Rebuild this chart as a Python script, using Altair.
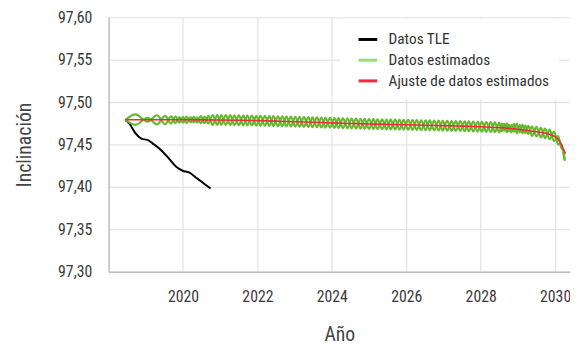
import altair as alt
import pandas as pd

# ---- Datos TLE (negro) ----
tle_year = [2018.45, 2018.57, 2018.71, 2018.88, 2019.06, 2019.19, 2019.37, 2019.59,
            2019.81, 2019.99, 2020.16, 2020.38, 2020.56, 2020.74]
tle_incl = [97.4790, 97.4740, 97.4640, 97.4570, 97.4550, 97.4510, 97.4450, 97.4350,
            97.4240, 97.4190, 97.4170, 97.4100, 97.4040, 97.3980]

# ---- Datos estimados (verde): dos ramas trenzadas, extremos leidos ----
est_year = [2018.45, 2018.72, 2019.05, 2019.30, 2019.52, 2019.68, 2019.80, 2019.90,
            2020.00, 2020.10, 2020.20, 2020.29, 2020.38, 2020.48, 2020.58, 2020.68,
            2020.80, 2020.92, 2021.03, 2021.15, 2021.27, 2021.38, 2021.50, 2021.62,
            2021.73, 2021.85, 2021.97, 2022.08, 2022.20, 2022.32, 2022.43, 2022.55,
            2022.67, 2022.78, 2022.90, 2023.02, 2023.13, 2023.25, 2023.37, 2023.48,
            2023.60, 2023.72, 2023.83, 2023.95, 2024.07, 2024.18, 2024.30, 2024.42,
            2024.53, 2024.65, 2024.77, 2024.88, 2025.00, 2025.12, 2025.23, 2025.35,
            2025.47, 2025.58, 2025.70, 2025.82, 2025.93, 2026.05, 2026.17, 2026.28,
            2026.40, 2026.52, 2026.63, 2026.75, 2026.87, 2026.98, 2027.10, 2027.22,
            2027.33, 2027.45, 2027.57, 2027.68, 2027.80, 2027.92, 2028.03, 2028.15,
            2028.27, 2028.38, 2028.50, 2028.57, 2028.63, 2028.70, 2028.76, 2028.83,
            2028.90, 2028.97, 2029.05, 2029.12, 2029.20, 2029.28, 2029.38, 2029.50,
            2029.62, 2029.73, 2029.85, 2029.97, 2030.08, 2030.17, 2030.22, 2030.26]
est_a = [97.4790, 97.4855, 97.4770, 97.4845, 97.4738, 97.4832, 97.4752, 97.4822,
         97.4758, 97.4830, 97.4762, 97.4825, 97.4760, 97.4835, 97.4752, 97.4838,
         97.4732, 97.4848, 97.4732, 97.4847, 97.4730, 97.4844, 97.4727, 97.4842,
         97.4725, 97.4840, 97.4723, 97.4838, 97.4721, 97.4835, 97.4718, 97.4832,
         97.4715, 97.4830, 97.4712, 97.4827, 97.4709, 97.4823, 97.4706, 97.4820,
         97.4703, 97.4817, 97.4699, 97.4814, 97.4696, 97.4810, 97.4693, 97.4807,
         97.4690, 97.4804, 97.4687, 97.4801, 97.4684, 97.4799, 97.4681, 97.4796,
         97.4679, 97.4794, 97.4677, 97.4792, 97.4675, 97.4790, 97.4672, 97.4787,
         97.4670, 97.4785, 97.4668, 97.4783, 97.4665, 97.4780, 97.4663, 97.4777,
         97.4660, 97.4775, 97.4657, 97.4772, 97.4654, 97.4768, 97.4651, 97.4765,
         97.4647, 97.4760, 97.4642, 97.4742, 97.4662, 97.4750, 97.4657, 97.4732,
         97.4652, 97.4745, 97.4642, 97.4732, 97.4632, 97.4720, 97.4600, 97.4708,
         97.4582, 97.4688, 97.4562, 97.4652, 97.4502, 97.4505, 97.4400, 97.4310]
est_b = [97.4790, 97.4732, 97.4815, 97.4737, 97.4838, 97.4748, 97.4828, 97.4758,
         97.4826, 97.4752, 97.4822, 97.4760, 97.4820, 97.4750, 97.4826, 97.4747,
         97.4848, 97.4732, 97.4848, 97.4731, 97.4846, 97.4728, 97.4843, 97.4726,
         97.4841, 97.4724, 97.4839, 97.4722, 97.4837, 97.4719, 97.4834, 97.4716,
         97.4831, 97.4714, 97.4828, 97.4711, 97.4825, 97.4707, 97.4822, 97.4704,
         97.4819, 97.4701, 97.4815, 97.4698, 97.4812, 97.4694, 97.4809, 97.4691,
         97.4806, 97.4688, 97.4803, 97.4685, 97.4800, 97.4683, 97.4797, 97.4680,
         97.4795, 97.4678, 97.4793, 97.4676, 97.4791, 97.4674, 97.4788, 97.4671,
         97.4786, 97.4669, 97.4784, 97.4667, 97.4781, 97.4664, 97.4779, 97.4661,
         97.4776, 97.4659, 97.4773, 97.4656, 97.4770, 97.4652, 97.4767, 97.4649,
         97.4763, 97.4644, 97.4758, 97.4655, 97.4745, 97.4643, 97.4735, 97.4641,
         97.4742, 97.4632, 97.4730, 97.4632, 97.4722, 97.4625, 97.4712, 97.4595,
         97.4696, 97.4575, 97.4676, 97.4540, 97.4600, 97.4458, 97.4430, 97.4310]

# ---- Ajuste de datos estimados (rojo) ----
fit_year = [2018.45, 2019.5, 2020.5, 2021.5, 2022.0, 2022.5, 2023.0, 2023.5, 2024.0,
            2024.5, 2025.0, 2025.5, 2026.0, 2026.5, 2027.0, 2027.5, 2028.0, 2028.5,
            2029.0, 2029.5, 2029.85, 2030.0, 2030.13, 2030.22, 2030.28]
fit_incl = [97.4792, 97.4791, 97.4790, 97.4785, 97.4781, 97.4775, 97.4769, 97.4762,
            97.4755, 97.4748, 97.4742, 97.4737, 97.4732, 97.4727, 97.4722, 97.4716,
            97.4709, 97.4700, 97.4680, 97.4650, 97.4620, 97.4590, 97.4530, 97.4450,
            97.4390]

series_names = ["Datos TLE", "Datos estimados", "Ajuste de datos estimados"]
legend_colors = ["#000000", "#8fe07a", "#ee2a3c"]
x_ticks = [2020, 2022, 2024, 2026, 2028, 2030]
y_ticks = [97.30, 97.35, 97.40, 97.45, 97.50, 97.55, 97.60]

FONT = "Liberation Sans Narrow, Roboto Condensed, DejaVu Sans Condensed, Roboto, sans-serif"

tle_df = pd.DataFrame({"anio": tle_year, "incl": tle_incl, "serie": series_names[0]})
est_df = pd.concat([
    pd.DataFrame({"anio": est_year, "incl": est_a, "rama": "A"}),
    pd.DataFrame({"anio": est_year, "incl": est_b, "rama": "B"}),
])
fit_df = pd.DataFrame({"anio": fit_year, "incl": fit_incl, "serie": series_names[2]})

x_enc = alt.X("anio:Q", scale=alt.Scale(domain=[2018, 2030.4], nice=False, zero=False),
              axis=alt.Axis(values=x_ticks, format="d", title="Año", labelPadding=17,
                            titleY=64, titleBaseline="middle"))
y_enc = alt.Y("incl:Q", scale=alt.Scale(domain=[97.30, 97.60], nice=False, zero=False),
              axis=alt.Axis(values=y_ticks, title="Inclinación", labelPadding=17,
                            labelExpr="replace(format(datum.value, '.2f'), '.', ',')",
                            titleX=-85, titleY=129, titleBaseline="middle"))

color_enc = alt.Color("serie:N",
                      scale=alt.Scale(domain=series_names, range=legend_colors),
                      legend=alt.Legend(title=None, orient="none", legendX=235, legendY=1.5,
                                        fillColor="white", padding=10, symbolOffset=7,
                                        symbolType="stroke", symbolStrokeWidth=3,
                                        symbolSize=360, labelFontSize=15.5,
                                        labelColor="#333333", labelFont=FONT,
                                        labelOffset=10, rowPadding=1, labelLimit=400))

green = alt.Chart(est_df).mark_line(interpolate="monotone", strokeWidth=2.2, color="#66b82e").encode(
    x=x_enc, y=y_enc, detail="rama:N")
black = alt.Chart(tle_df).mark_line(interpolate="monotone", strokeWidth=2).encode(
    x=x_enc, y=y_enc, color=color_enc)
red = alt.Chart(fit_df).mark_line(interpolate="monotone", strokeWidth=1.6).encode(
    x=x_enc, y=y_enc, color=color_enc)

chart = alt.layer(black, green, red).properties(
    width=468, height=258,
    autosize=alt.AutoSizeParams(type="none"),
    padding={"left": 102, "top": 7, "right": 0, "bottom": 75},
    background="white",
).configure_view(strokeOpacity=0).configure_axis(
    gridColor="#dddddd", domainColor="#bdbdbd", domainWidth=1.5, ticks=False,
    labelFont=FONT, labelFontSize=16, labelColor="#3a3a3a",
    titleFont=FONT, titleFontSize=20, titleFontWeight="normal", titleColor="#444444",
)

chart.save("out.html", embed_options={"renderer": "svg", "actions": False})
